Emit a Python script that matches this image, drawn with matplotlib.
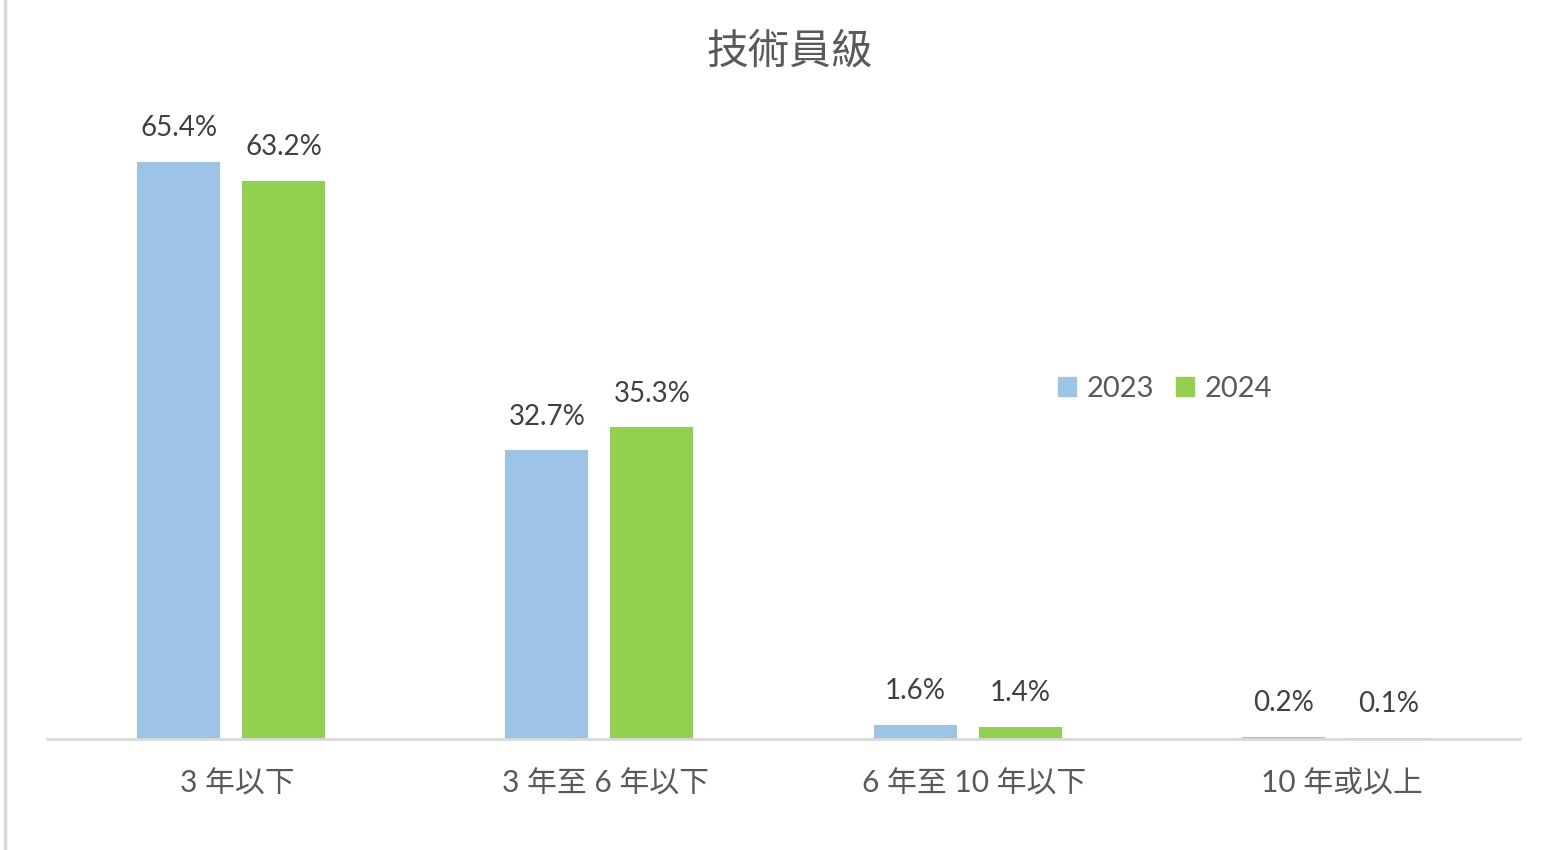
import matplotlib
matplotlib.use('Agg')
import matplotlib.pyplot as plt
import matplotlib.transforms as mtransforms
from matplotlib.lines import Line2D
from matplotlib.patches import Patch
import numpy as np

# 年資分類
categories = ['3 年以下', '3 年至 6 年以下', '6 年至 10 年以下', '10 年或以上']
# 百分比
v2023 = [65.4, 32.7, 1.6, 0.2]
v2024 = [63.2, 35.3, 1.4, 0.1]
series_names = ['2023', '2024']

plt.rcParams['font.family'] = ['Lato', 'Noto Sans CJK TC', 'DejaVu Sans']

fig = plt.figure(figsize=(15.45, 8.5), dpi=100)
ax = fig.add_axes([47 / 1545, 1 - 739 / 850, 1473 / 1545, 639 / 850])

x = np.arange(len(categories))
w = 0.225
off = 0.1426
b1 = ax.bar(x - off, v2023, w, color='#9DC3E6')
b2 = ax.bar(x + off, v2024, w, color='#92D050')

for bars, vals in [(b1, v2023), (b2, v2024)]:
    for b, v in zip(bars, vals):
        ax.annotate(f'{v:.1f}%', (b.get_x() + b.get_width() / 2, v),
                    xytext=(0, 15), textcoords='offset points',
                    ha='center', va='bottom', fontsize=20, color='#404040')

ax.set_xlim(-0.5, 3.5)
ax.set_ylim(0, 72.4)
ax.set_xticks(x)
ax.set_xticklabels(categories, fontsize=21.5, color='#595959')
ax.tick_params(axis='x', length=0, pad=22)
# 類別標籤略微右移
shift = mtransforms.ScaledTranslation(6 / 100, 0, fig.dpi_scale_trans)
for lbl in ax.get_xticklabels():
    lbl.set_transform(lbl.get_transform() + shift)
ax.set_yticks([])
for s in ['top', 'right', 'left']:
    ax.spines[s].set_visible(False)
ax.spines['bottom'].set_color('#D9D9D9')
ax.spines['bottom'].set_linewidth(2)

fig.text(790 / 1545, 1 - 51 / 850, '技術員級', ha='center', va='center',
         fontsize=30, color='#595959')

handles = [Patch(color='#9DC3E6'), Patch(color='#92D050')]
fig.legend(handles, series_names, loc='center left',
           bbox_to_anchor=(1032 / 1545, 1 - 389 / 850), ncol=2, frameon=False,
           fontsize=21, labelcolor='#595959', handlelength=0.62, handleheight=0.62,
           handletextpad=0.35, columnspacing=0.75)

# 左側邊框線
fig.add_artist(Line2D([5 / 1545, 5 / 1545], [2 / 850, 1], color='#D9D9D9', linewidth=2.5))

fig.savefig('out.png', dpi=100, facecolor='white')
